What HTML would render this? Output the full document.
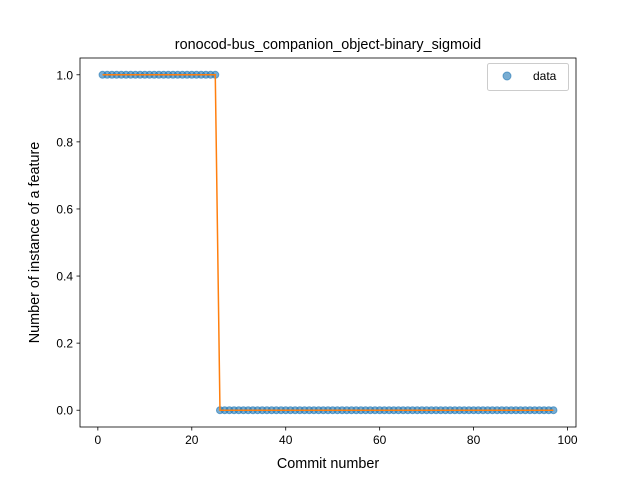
<!DOCTYPE html>
<html><head><meta charset="utf-8"><style>body{margin:0;background:#fff}svg{display:block;font-family:"Liberation Sans","DejaVu Sans",sans-serif}</style></head>
<body>
<svg id="chart" width="640" height="480" viewBox="0 0 640 480">
<rect width="640" height="480" fill="#fff"/>
<text x="328" y="49" font-size="14.4" text-anchor="middle">ronocod-bus_companion_object-binary_sigmoid</text>
<g id="marks"></g>
<g id="axes"></g>
<rect x="80" y="58" width="496" height="369" fill="none" stroke="#000" stroke-width="0.8"/>
<text x="328" y="468" font-size="14.4" text-anchor="middle">Commit number</text>
<text transform="translate(39,242.5) rotate(-90)" font-size="14.4" text-anchor="middle">Number of instance of a feature</text>
<g>
<rect x="487.5" y="63.5" width="81" height="27" rx="2" fill="#fff" fill-opacity="0.8" stroke="#ccc"/>
<circle cx="507" cy="76" r="4" fill="#1f77b4" fill-opacity="0.6" stroke="#1f77b4" stroke-opacity="0.6"/>
<text x="533" y="80" font-size="12">data</text>
</g>
</svg>
<script>
const xValues = Array.from({length:97},(_,i)=>i+1);
const yValues = [1,1,1,1,1,1,1,1,1,1,1,1,1,1,1,1,1,1,1,1,1,1,1,1,1,
0,0,0,0,0,0,0,0,0,0,0,0,0,0,0,0,0,0,0,0,0,0,0,0,0,0,0,0,0,0,0,0,0,0,0,0,0,0,0,0,0,0,0,0,0,0,0,0,0,0,0,0,0,0,0,0,0,0,0,0,0,0,0,0,0,0,0,0,0,0,0,0];
const xTicks = [0,20,40,60,80,100];
const yTicks = [0.0,0.2,0.4,0.6,0.8,1.0];
const NS="http://www.w3.org/2000/svg";
const L=80,R=576,T=58,B=427;
const xmin=Math.min(...xValues),xmax=Math.max(...xValues),xp=(xmax-xmin)*0.05;
const ymin=Math.min(...yValues),ymax=Math.max(...yValues),yp=(ymax-ymin)*0.05||0.05;
const sx=v=>L+(v-(xmin-xp))/((xmax+xp)-(xmin-xp))*(R-L);
const sy=v=>B-(v-(ymin-yp))/((ymax+yp)-(ymin-yp))*(B-T);
function mk(t,a){const e=document.createElementNS(NS,t);for(const k in a)e.setAttribute(k,a[k]);return e;}
const marks=document.getElementById('marks'),axes=document.getElementById('axes');
xValues.forEach((x,i)=>{
 const c=mk('circle',{cx:sx(x),cy:sy(yValues[i]),r:3.5,fill:'#1f77b4','fill-opacity':0.6,stroke:'#1f77b4','stroke-opacity':0.6});
 
 
 marks.appendChild(c);
});
const line=mk('polyline',{points:xValues.map((x,i)=>sx(x)+','+sy(yValues[i])).join(' '),fill:'none',stroke:'#ff7f0e','stroke-width':1.5});


marks.appendChild(line);
xTicks.forEach(t=>{
 const x=sx(t);
 const l=mk('line',{x1:x,x2:x,y1:B,y2:B+3.5,stroke:'#000','stroke-width':0.8});
 
 
 axes.appendChild(l);
 const tx=mk('text',{x:x,y:B+17,'font-size':12,'text-anchor':'middle'});tx.textContent=t;
 
 
 axes.appendChild(tx);
});
yTicks.forEach(t=>{
 const y=sy(t);
 const l=mk('line',{x1:L-3.5,x2:L,y1:y,y2:y,stroke:'#000','stroke-width':0.8});
 
 
 axes.appendChild(l);
 const tx=mk('text',{x:L-7,y:y+4.5,'font-size':12,'text-anchor':'end'});tx.textContent=t.toFixed(1);
 
 
 axes.appendChild(tx);
});
</script>
</body></html>
